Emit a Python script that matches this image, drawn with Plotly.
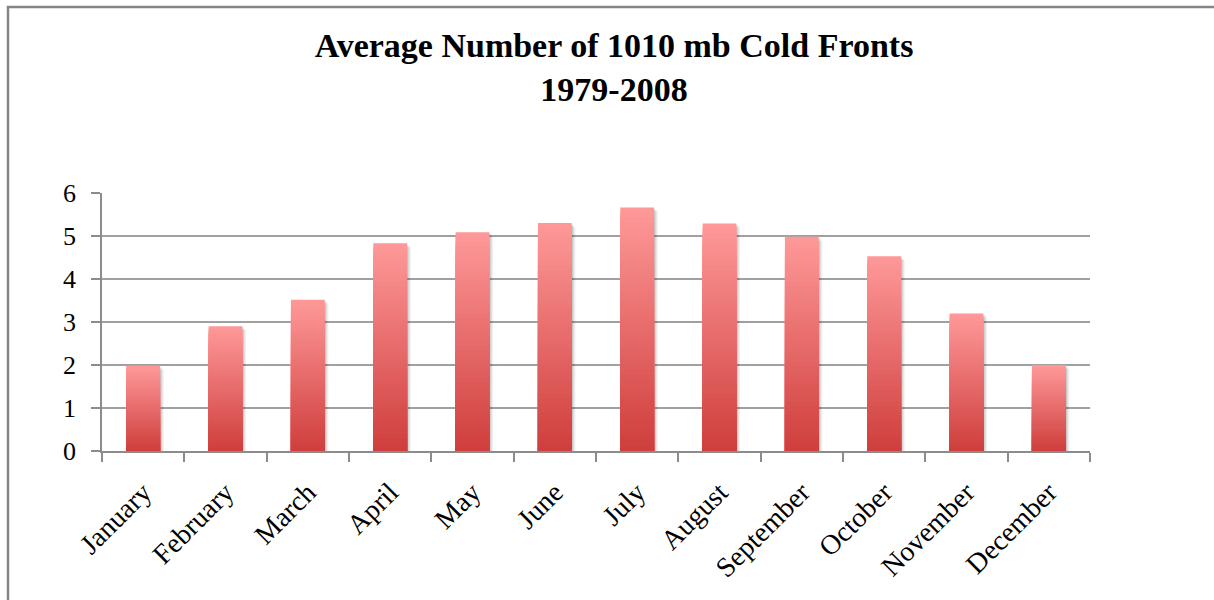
import plotly.graph_objects as go

# Monthly averages of 1010 mb cold fronts, 1979-2008
months = ["January", "February", "March", "April", "May", "June",
          "July", "August", "September", "October", "November", "December"]
avg_fronts = [1.98, 2.90, 3.52, 4.83, 5.09, 5.30, 5.66, 5.29, 4.98, 4.53, 3.20, 2.00]
y_ticks = [0, 1, 2, 3, 4, 5, 6]

title_lines = ["Average Number of 1010 mb Cold Fronts", "1979-2008"]

W, H = 1214, 600
plot_left, plot_right = 102, 1090
plot_top, plot_bottom = 193, 451

# gradient colours: bottom (dark red) -> top (light pink)
c_bottom = (206, 62, 60)
c_top = (255, 153, 153)
n_steps = 48
bar_w = 0.41

FONT = "Liberation Serif"

fig = go.Figure()

# soft drop shadow behind each bar
for k, (dx, dy, a) in enumerate([(0.045, 0.09, 0.06), (0.03, 0.06, 0.08), (0.015, 0.03, 0.10)]):
    fig.add_trace(go.Bar(
        x=months, y=avg_fronts, base=-dy,
        width=bar_w, offset=-bar_w / 2 + dx,
        marker=dict(color="rgba(0,0,0,%.2f)" % a, line=dict(width=0)),
        hoverinfo="skip", showlegend=False,
    ))

# each bar is painted as overlapping columns from the base, tallest (lightest) first,
# so the fill runs dark at the bottom to light at the top of every bar
for i in range(n_steps):
    frac = (n_steps - i) / n_steps
    t = (n_steps - i - 0.5) / n_steps
    col = tuple(round(c_bottom[k] + (c_top[k] - c_bottom[k]) * t) for k in range(3))
    fig.add_trace(go.Bar(
        x=months,
        y=[v * frac for v in avg_fronts],
        marker=dict(color="rgb(%d,%d,%d)" % col, line=dict(width=0)),
        width=bar_w,
        hoverinfo="skip",
        showlegend=False,
    ))

fig.update_layout(
    width=W, height=H,
    barmode="overlay",
    paper_bgcolor="white",
    plot_bgcolor="white",
    margin=dict(l=plot_left, r=W - plot_right, t=plot_top, b=H - plot_bottom, autoexpand=False),
    font=dict(family=FONT, color="black"),
    title=dict(
        text="<b>" + "<br>".join(title_lines) + "</b>",
        font=dict(family=FONT, size=34, color="black"),
        x=614 / W, xanchor="center", xref="container",
        y=1 - 57 / H, yanchor="top", yref="container",
    ),
)

fig.update_xaxes(
    type="category",
    showgrid=False,
    showline=True, linecolor="#8c8c8c", linewidth=1.5,
    ticks="outside", tickson="boundaries", ticklen=9, tickcolor="#8c8c8c", tickwidth=1.5,
    tickangle=-45,
    ticklabelstandoff=12,
    tickfont=dict(family=FONT, size=28, color="black"),
)

fig.update_yaxes(
    range=[0, 6],
    tickvals=y_ticks,
    showgrid=True, gridcolor="#a0a0a0", gridwidth=1.5,
    showline=True, linecolor="#8c8c8c", linewidth=1.5,
    ticks="outside", ticklen=9, tickcolor="#8c8c8c", tickwidth=1.5,
    ticklabelstandoff=10,
    tickfont=dict(family=FONT, size=26, color="black"),
    zeroline=False,
)

# outer chart frame (left and top edges are visible, it continues past the right/bottom)
x_px = lambda px: (px - plot_left) / (plot_right - plot_left)
y_px = lambda py: (plot_bottom - py) / (plot_bottom - plot_top)
fig.add_shape(type="rect", xref="paper", yref="paper",
              x0=x_px(8), x1=x_px(W + 20), y0=y_px(H + 20), y1=y_px(7),
              line=dict(color="#858585", width=2.5), fillcolor="rgba(0,0,0,0)", layer="below")

fig.write_html("out.html")
